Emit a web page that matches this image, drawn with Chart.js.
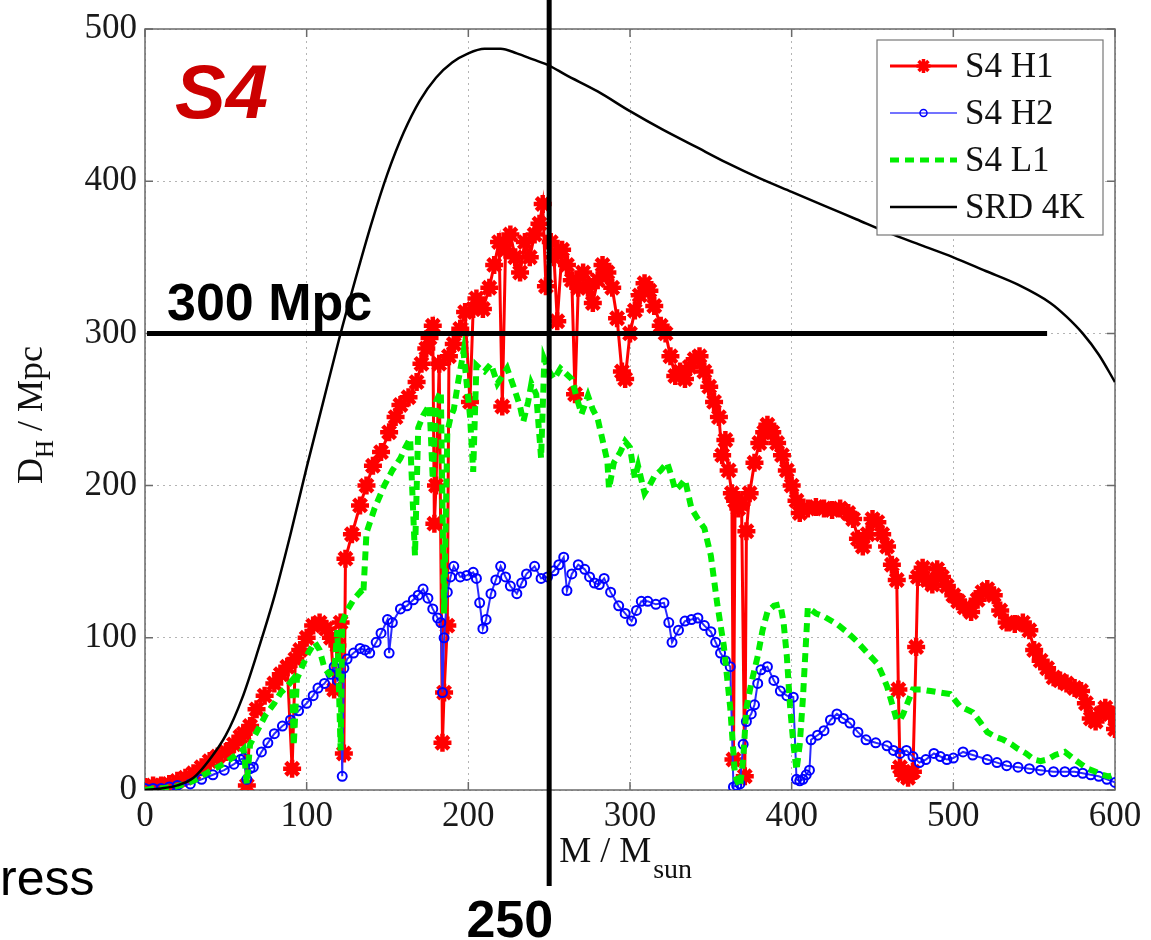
<!DOCTYPE html>
<html>
<head>
<meta charset="utf-8">
<script src="https://cdn.jsdelivr.net/npm/chart.js@4.4.0/dist/chart.umd.min.js"></script>
<style>
  html, body { margin: 0; padding: 0; background: #fff; overflow: hidden; }
  canvas { display: block; }
</style>
</head>
<body>
<canvas id="grafico" width="1151" height="940"></canvas>
<script>
/* ============================
   DADOS
============================ */

const xTicks = [0, 100, 200, 300, 400, 500, 600];
const yTicks = [0, 100, 200, 300, 400, 500];

const h1Massa = [0,5,10,15,20,25,30,35,40,45, 50,55,59,61,63,65,69,74,80,84,
  88,91,93,96,100,104,108,112,115,117, 119,121,123,124,128,133,137,141,146,151,
  155,158,163,168,171,174,176,178,179,180, 182,184,185,187,188,191,195,198,201,203,
  205,209,213,216,219,221,223,226,229,232, 235,238,241,244,246,248,251,253,255,258,
  261,264,266,268,271,274,277,280,283,286, 289,292,295,297,300,303,306,309,312,315,
  319,322,325,328,331,334,337,340,343,346, 349,352,355,357,359,361,363,364,365,367,
  369,371,372,374,377,380,383,385,388,391, 394,397,400,403,405,410,415,420,425,430,
  435,438,441,444,447,450,453,456,459,462, 465,466,467,469,472,475,477,478,481,484,
  487,490,493,496,500,503,507,511,515,518, 521,525,529,533,538,543,547,550,554,558,
  562,566,570,575,579,582,585,588,591,594, 597,600];
const h1Dist = [2,3,3,4,6,8,11,15,19,22, 25,30,35,37,3,42,53,62,70,76,
  81,14,86,92,100,108,110,106,100,66, 95,110,24,152,168,187,200,213,222,235,
  245,253,258,268,280,290,297,305,175,200, 280,31,64,108,285,293,303,314,255,316,
  323,316,330,345,360,252,355,365,350,340, 360,350,365,372,385,331,360,350,308,355,
  345,335,260,330,340,330,320,335,345,340, 330,310,275,270,300,315,325,333,328,318,
  305,300,285,272,275,270,278,283,285,275, 265,255,245,220,230,210,195,20,190,185,
  188,9,170,195,215,228,235,240,235,228, 220,210,200,190,182,185,186,185,184,185,
  182,178,165,160,168,178,176,168,160,148, 138,66,15,10,8,12,94,140,146,138,
  135,145,140,134,128,124,120,117,125,130, 132,128,118,110,109,110,105,92,85,80,
  74,72,70,67,65,57,47,45,50,54, 50,40];

const h2Massa = [0,5,10,15,20,28,35,42,49,55, 59,61,63,65,67,72,76,80,85,90,
  95,100,104,107,111,115,117,119,121,122, 123,125,129,133,136,139,143,146,150,151,
  153,158,162,166,169,172,175,178,181,183, 184,185,187,189,191,195,199,203,205,207,
  209,211,214,217,220,223,226,230,233,236, 241,245,249,253,256,259,261,264,268,272,
  275,278,281,284,288,293,297,301,304,307, 311,316,321,324,326,330,334,338,342,346,
  350,353,356,359,362,364,366,368,370,372, 375,377,379,381,385,389,393,397,401,403,
  405,407,409,411,412,416,420,424,428,432, 436,441,446,452,459,463,467,471,475,479,
  483,488,492,496,500,506,512,521,527,533, 540,547,554,562,569,575,580,585,590,595,
  600];
const h2Dist = [1,1,1,2,3,4,7,10,13,17, 20,21,7,14,15,25,31,37,42,46,
  52,57,62,67,70,76,81,72,75,9, 80,86,90,93,92,90,97,103,112,90,
  110,119,121,125,128,132,126,119,113,110, 64,100,130,140,147,140,141,143,139,123,
  106,112,129,138,147,140,134,129,136,142, 147,139,140,144,148,153,131,142,148,145,
  140,136,135,139,130,121,116,111,118,124, 124,122,123,110,97,105,111,112,113,108,
  104,97,90,85,81,2,3,4,30,45, 50,56,70,79,81,72,65,62,61,7,
  6,7,10,13,33,36,39,46,50,47, 44,38,33,31,29,26,24,26,22,18,
  20,24,22,20,21,25,23,20,18,16, 15,14,13,12,12,12,11,10,9,7,
  5];

const l1Massa = [0,5,10,18,25,30,38,45,50,55, 59,61,63,65,68,71,75,80,84,88,
  91,92,94,98,101,105,108,111,114,117, 119,121,122,125,129,133,135,137,142,148,
  153,158,161,164,167,169,172,176,178,180, 183,185,187,189,191,194,197,199,201,203,
  205,207,210,214,218,221,224,228,232,234, 237,239,242,245,247,250,253,257,260,264,
  267,270,274,277,280,283,286,287,290,294, 297,300,303,305,309,312,315,319,323,326,
  328,331,334,338,342,346,350,354,358,362, 365,368,370,372,375,379,382,385,389,393,
  395,397,399,401,403,405,407,410,415,420, 428,434,440,446,453,456,459,462,465,467,
  469,472,475,480,486,492,498,504,508,512, 517,521,526,531,536,540,545,550,554,558,
  563,569,575,579,583,588,592,596,600];
const l1Dist = [0,1,1,2,4,6,11,15,18,22, 25,27,4,30,36,42,50,57,64,68,
  72,29,73,83,90,97,92,80,76,78, 105,26,110,118,125,130,128,169,185,200,
  210,218,225,231,154,238,246,253,204,255, 262,116,235,245,250,270,288,267,246,209,
  279,277,275,280,267,272,277,265,252,242, 255,267,260,218,283,275,270,277,274,270,
  258,247,259,250,244,230,216,198,215,222, 229,225,205,213,195,200,206,210,215,205,
  197,200,204,185,178,172,154,122,95,54, 9,2,20,54,70,88,105,117,121,122,
  110,88,55,31,13,30,61,120,116,114, 109,104,98,91,83,76,68,57,46,46,
  50,58,66,66,65,64,63,55,53,51, 44,38,35,33,30,27,24,20,19,20,
  23,25,20,17,14,12,10,9,10];

const srdMassa = [0,10,20,30,40,50,60,70,80,90, 100,110,120,130,140,150,160,170,180,190,
  200,210,220,230,240,250,260,280,300,320, 340,360,380,400,420,440,460,480,500,520,
  540,560,570,580,590,600];
const srdDist = [0,1,3,8,20,36,60,92,127,168, 212,254,296,335,372,405,432,453,468,478,
  484,487,487,484,480,476,470,459,446,434, 423,412,402,393,384,375,366,358,350,341,
  332,320,311,300,286,268];

const marcaMassa = 250;   // linha vertical
const marcaDist = 300;    // linha horizontal
const fimLinhaDist = 558; // onde termina a linha dos 300 Mpc

/* ============================
   ESTILO
============================ */

const SERIF = '"Liberation Serif", "DejaVu Serif", serif';
const SANS = '"Liberation Sans", Arial, sans-serif';

function pares(xs, ys) {
    return xs.map((x, i) => ({ x: x, y: ys[i] }));
}

/* ============================
   PLUGIN: moldura, títulos, legenda, marcas
============================ */

const moldura = {
    id: "moldura",
    beforeDatasetsDraw(chart) {
        const ctx = chart.ctx, a = chart.chartArea;
        const sx = chart.scales.x, sy = chart.scales.y;
        ctx.save();
        ctx.strokeStyle = "#6a6a6a";
        ctx.lineWidth = 1.5;
        ctx.strokeRect(a.left, a.top, a.right - a.left, a.bottom - a.top);
        ctx.beginPath();
        xTicks.forEach(v => {
            const px = sx.getPixelForValue(v);
            ctx.moveTo(px, a.bottom); ctx.lineTo(px, a.bottom - 8);
            ctx.moveTo(px, a.top); ctx.lineTo(px, a.top + 8);
        });
        yTicks.forEach(v => {
            const py = sy.getPixelForValue(v);
            ctx.moveTo(a.left, py); ctx.lineTo(a.left + 8, py);
            ctx.moveTo(a.right, py); ctx.lineTo(a.right - 8, py);
        });
        ctx.stroke();
        ctx.restore();
    }
};

const extras = {
    id: "extras",
    afterDraw(chart) {
        const ctx = chart.ctx, a = chart.chartArea;
        const sx = chart.scales.x, sy = chart.scales.y;
        ctx.save();

        // título do eixo y: D_H / Mpc
        ctx.save();
        ctx.translate(42, 415);
        ctx.rotate(-Math.PI / 2);
        ctx.fillStyle = "#111";
        ctx.textBaseline = "alphabetic";
        const fG = "36px " + SERIF, fP = "25px " + SERIF;
        ctx.font = fG; const wD = ctx.measureText("D").width;
        ctx.font = fP; const wH = ctx.measureText("H").width;
        ctx.font = fG; const wR = ctx.measureText(" / Mpc").width;
        let x0 = -(wD + wH + wR) / 2;
        ctx.font = fG; ctx.fillText("D", x0, 0);
        ctx.font = fP; ctx.fillText("H", x0 + wD, 11);
        ctx.font = fG; ctx.fillText(" / Mpc", x0 + wD + wH, 0);
        ctx.restore();

        // título do eixo x: M / M_sun
        const x250 = sx.getPixelForValue(marcaMassa);
        ctx.fillStyle = "#111";
        ctx.font = "36px " + SERIF;
        ctx.fillText("M / M", x250 + 10, 862);
        const wM = ctx.measureText("M / M").width;
        ctx.font = "28px " + SERIF;
        ctx.fillText("sun", x250 + 12 + wM, 878);

        // legenda
        const lx = a.right - 238, ly = a.top + 11, lw = 226, lh = 195;
        ctx.fillStyle = "#fff";
        ctx.fillRect(lx, ly, lw, lh);
        ctx.strokeStyle = "#777";
        ctx.lineWidth = 1.2;
        ctx.strokeRect(lx, ly, lw, lh);
        const itens = chart.data.datasets;
        itens.forEach((ds, i) => {
            const yy = ly + 26 + i * 47;
            const xa = lx + 13, xb = lx + 80;
            ctx.save();
            ctx.strokeStyle = ds.legendColor || ds.borderColor;
            ctx.lineWidth = ds.legendWidth || ds.borderWidth;
            ctx.setLineDash(ds.borderDash || []);
            ctx.beginPath(); ctx.moveTo(xa, yy); ctx.lineTo(xb, yy); ctx.stroke();
            ctx.setLineDash([]);
            if (ds.pointRadius > 0) {
                ctx.strokeStyle = ds.pointBorderColor;
                ctx.fillStyle = "rgba(0,0,0,0)";
                ctx.lineWidth = ds.legendPointWidth || ds.pointBorderWidth;
                Chart.helpers.drawPoint(ctx, {
                    pointStyle: ds.pointStyle,
                    radius: ds.legendPointRadius || ds.pointRadius,
                    borderWidth: ds.legendPointWidth || ds.pointBorderWidth,
                    rotation: 0
                }, (xa + xb) / 2, yy);
            }
            ctx.restore();
            ctx.fillStyle = "#111";
            ctx.font = "35px " + SERIF;
            ctx.textBaseline = "middle";
            ctx.fillText(ds.label, lx + 88, yy + 2);
        });
        ctx.textBaseline = "alphabetic";

        // linhas de referência
        const y300 = sy.getPixelForValue(marcaDist);
        ctx.strokeStyle = "#000";
        ctx.lineWidth = 5;
        ctx.beginPath();
        ctx.moveTo(a.left + 2, y300);
        ctx.lineTo(sx.getPixelForValue(fimLinhaDist), y300);
        ctx.moveTo(x250, 0);
        ctx.lineTo(x250, 886);
        ctx.stroke();

        // textos sobrepostos
        ctx.fillStyle = "#cc0000";
        ctx.font = "italic bold 76px " + SANS;
        ctx.fillText("S4", a.left + 30, 118);

        ctx.fillStyle = "#000";
        ctx.font = "bold 52px " + SANS;
        ctx.fillText("300 Mpc", a.left + 22, y300 - 13);
        ctx.textAlign = "right";
        ctx.fillText("250", x250 + 4, 937);
        ctx.textAlign = "left";

        ctx.font = "50px " + SANS;
        ctx.fillText("ress", 0, 895);

        ctx.restore();
    }
};

/* ============================
   GRÁFICO
============================ */

function gerarGrafico() {
    const ctx = document.getElementById("grafico").getContext("2d");

    new Chart(ctx, {
        type: "line",
        data: {
            datasets: [
                {
                    label: "S4 H1",
                    data: pares(h1Massa, h1Dist),
                    borderColor: "#ff0000",
                    borderWidth: 3,
                    pointStyle: "star",
                    pointRadius: 9,
                    pointBorderWidth: 4.5,
                    pointBorderColor: "#ff0000",
                    pointBackgroundColor: "#ff0000",
                    legendWidth: 3,
                    legendPointRadius: 7,
                    legendPointWidth: 3.5,
                    order: 4
                },
                {
                    label: "S4 H2",
                    data: pares(h2Massa, h2Dist),
                    borderColor: "#2a2aff",
                    borderWidth: 2,
                    pointStyle: "circle",
                    pointRadius: 4.5,
                    pointBorderWidth: 2,
                    pointBorderColor: "#0000ff",
                    pointBackgroundColor: "rgba(0,0,0,0)",
                    legendColor: "#7373ff",
                    legendWidth: 2,
                    legendPointRadius: 3.5,
                    legendPointWidth: 1.5,
                    order: 3
                },
                {
                    label: "S4 L1",
                    data: pares(l1Massa, l1Dist),
                    borderColor: "#00ee00",
                    borderWidth: 6,
                    borderDash: [9, 6],
                    pointRadius: 0,
                    legendWidth: 5,
                    order: 2
                },
                {
                    label: "SRD 4K",
                    data: pares(srdMassa, srdDist),
                    borderColor: "#000000",
                    borderWidth: 2.5,
                    cubicInterpolationMode: "monotone",
                    pointRadius: 0,
                    order: 1
                }
            ]
        },
        options: {
            responsive: false,
            animation: false,
            devicePixelRatio: 1,
            layout: { padding: { top: 26, right: 36, left: 0, bottom: 0 } },
            plugins: {
                legend: { display: false },
                tooltip: { enabled: false }
            },
            elements: { line: { tension: 0 } },
            scales: {
                x: {
                    type: "linear",
                    min: 0,
                    max: 600,
                    afterFit: s => { s.height = 150; },
                    afterBuildTicks: s => { s.ticks = xTicks.map(v => ({ value: v })); },
                    ticks: {
                        color: "#1a1a1a",
                        font: { family: SERIF, size: 35 },
                        padding: 6,
                        maxRotation: 0
                    },
                    grid: { color: "#b4b4b4", lineWidth: 1, drawTicks: false },
                    border: { display: false, dash: [2, 4] }
                },
                y: {
                    type: "linear",
                    min: 0,
                    max: 500,
                    afterFit: s => { s.width = 145; },
                    afterBuildTicks: s => { s.ticks = yTicks.map(v => ({ value: v })); },
                    ticks: {
                        color: "#1a1a1a",
                        font: { family: SERIF, size: 35 },
                        padding: 8
                    },
                    grid: { color: "#b4b4b4", lineWidth: 1, drawTicks: false },
                    border: { display: false, dash: [2, 4] }
                }
            }
        },
        plugins: [moldura, extras]
    });
}

document.addEventListener("DOMContentLoaded", gerarGrafico);
</script>
</body>
</html>
